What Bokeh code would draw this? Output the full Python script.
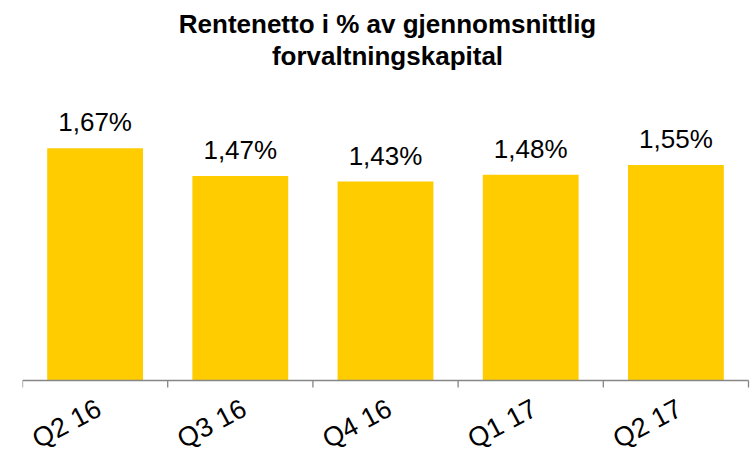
from bokeh.plotting import figure
from bokeh.models import ColumnDataSource, Range1d, Title
from bokeh.core.properties import value
from bokeh.embed import file_html
from bokeh.resources import INLINE

categories = ["Q2 16", "Q3 16", "Q4 16", "Q1 17", "Q2 17"]
values = [1.67, 1.47, 1.43, 1.48, 1.55]
value_labels = [f"{v:.2f}".replace(".", ",") + "%" for v in values]
title_lines = ["Rentenetto i % av gjennomsnittlig", "forvaltningskapital"]

FONT = "Liberation Sans"
BAR_COLOR = "#FFCC00"
AXIS_COLOR = "#868686"

W, H = 752, 453
TOP = 70            # frame top (px from figure top)
AXIS_Y = 380        # axis line (px from figure top)
LEFT = 22           # frame left = first category edge
RIGHT_PAD = 4
PX_PER_UNIT = 139.1
TICK_LEN = 7

n = len(categories)
centers = [i + 0.5 for i in range(n)]
edges = list(range(n + 1))
src = ColumnDataSource(dict(x=centers, val=values, lab=value_labels, cat=categories))

ymax = (AXIS_Y - TOP) / PX_PER_UNIT
ymin = -(H - AXIS_Y) / PX_PER_UNIT
xpx = (W - LEFT - RIGHT_PAD) / n
xmax = n + RIGHT_PAD / xpx

p = figure(width=W, height=H,
           x_range=Range1d(0, xmax), y_range=Range1d(ymin, ymax),
           output_backend="svg", toolbar_location=None,
           x_axis_location=None, y_axis_location=None,
           min_border_left=LEFT, min_border_right=0, min_border_top=TOP,
           min_border_bottom=0)
p.outline_line_color = None
p.grid.visible = False

p.title.text = title_lines[0]
line2 = Title(text=title_lines[1])
p.add_layout(line2, "above")
for t in (p.title, line2):
    t.align = "center"
    t.text_font = FONT
    t.text_font_style = "bold"
    t.text_font_size = "26px"
    t.text_color = "black"
    t.standoff = 0

p.vbar(x="x", top="val", width=0.66, bottom=0, source=src,
       fill_color=BAR_COLOR, line_color=None)

p.text(x="x", y="val", text="lab", source=src, text_align="center",
       text_baseline="alphabetic", y_offset=-26,
       text_font=value(FONT), text_font_size="26px", text_color="black")

# category axis: base line, boundary ticks and rotated labels
p.segment(x0=[edges[0]], y0=[0], x1=[edges[-1]], y1=[0],
          line_color=AXIS_COLOR, line_width=1.3)
p.segment(x0=edges, y0=[0] * len(edges), x1=edges,
          y1=[-TICK_LEN / PX_PER_UNIT] * len(edges),
          line_color=AXIS_COLOR, line_width=1.3)
p.text(x="x", y=0, text="cat", source=src, angle=28, angle_units="deg",
       text_align="right", text_baseline="middle", x_offset=4, y_offset=26,
       text_font=value(FONT), text_font_size="27px", text_color="black")

open("out.html", "w").write(file_html(p, INLINE))
